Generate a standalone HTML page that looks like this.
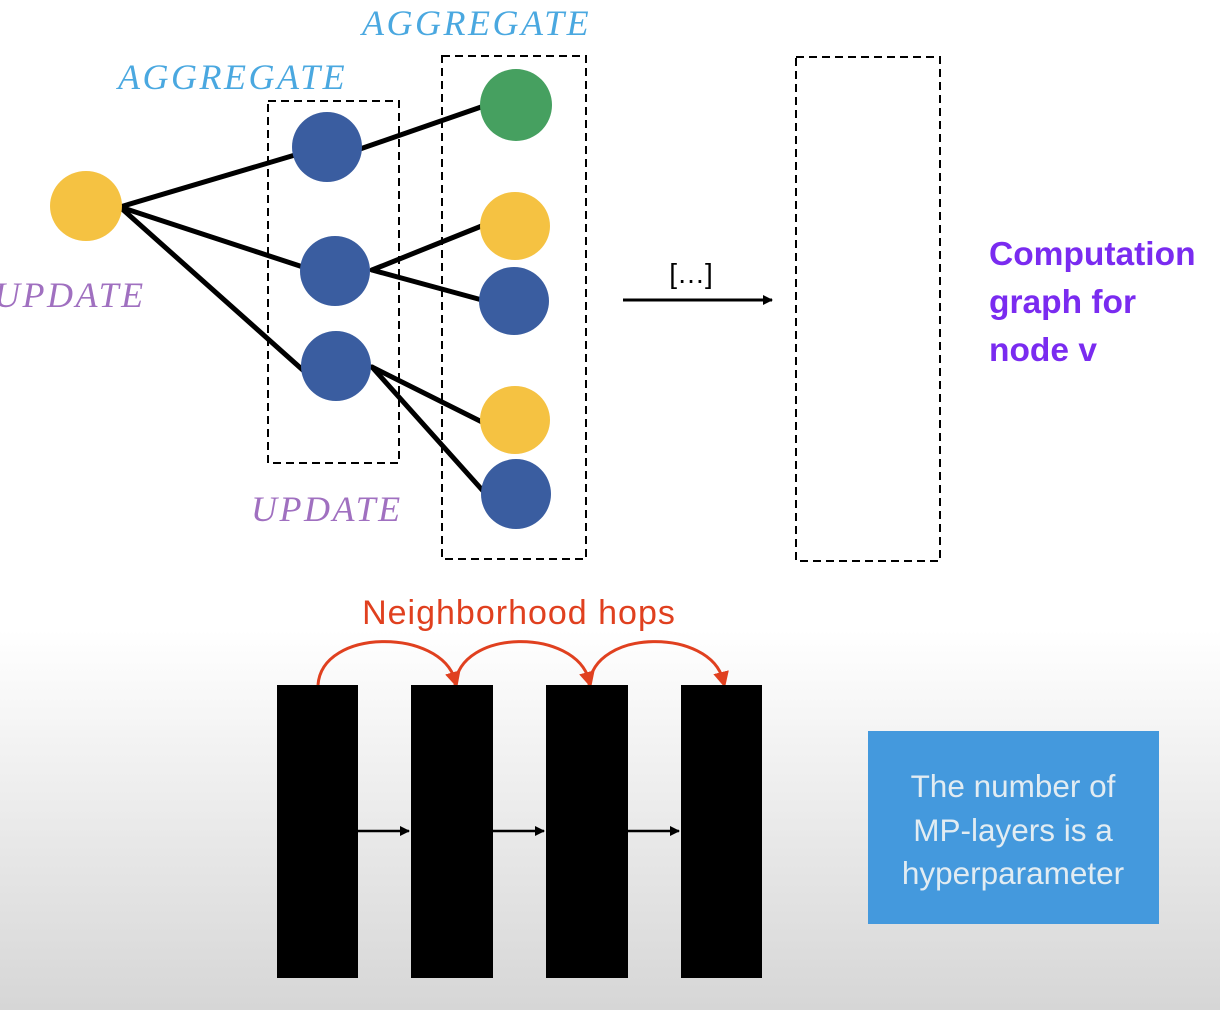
<!DOCTYPE html>
<html><head><meta charset="utf-8"><style>
html,body{margin:0;padding:0}
body{width:1220px;height:1010px;overflow:hidden;background:linear-gradient(to bottom,#fff 0,#fff 630px,#d6d6d6 1010px)}
svg{position:absolute;left:0;top:0}
</style></head><body>
<svg width="1220" height="1010" viewBox="0 0 1220 1010" xmlns="http://www.w3.org/2000/svg">
<defs>
<marker id="ak" markerWidth="10" markerHeight="10" refX="9" refY="5" orient="auto" markerUnits="userSpaceOnUse"><path d="M0,0 L10,5 L0,10 z" fill="#000"/></marker>
<marker id="ar" markerWidth="16" markerHeight="16" refX="8" refY="8" orient="auto" markerUnits="userSpaceOnUse"><path d="M0,0 L16,8 L0,16 z" fill="#e0401f"/></marker>
</defs>
<g fill="none" stroke="#000" stroke-width="2" stroke-dasharray="8,5">
<rect x="268" y="101" width="131" height="362"/>
<rect x="442" y="56" width="144" height="503"/>
<rect x="796" y="57" width="144" height="504"/>
</g>
<g stroke="#000" stroke-width="5" stroke-linecap="round">
<line x1="120" y1="207" x2="295" y2="155"/>
<line x1="120" y1="207" x2="303" y2="267"/>
<line x1="120" y1="207" x2="305" y2="372"/>
<line x1="360" y1="149" x2="484" y2="106"/>
<line x1="372" y1="270" x2="484" y2="225"/>
<line x1="372" y1="270" x2="482" y2="300"/>
<line x1="372" y1="367" x2="484" y2="423"/>
<line x1="372" y1="367" x2="484" y2="492"/>
</g>
<ellipse cx="86" cy="206" rx="36" ry="35" fill="#f5c242"/>
<ellipse cx="327" cy="147" rx="35" ry="35" fill="#3a5da0"/>
<ellipse cx="335" cy="271" rx="35" ry="35" fill="#3a5da0"/>
<ellipse cx="336" cy="366" rx="35" ry="35" fill="#3a5da0"/>
<ellipse cx="516" cy="105" rx="36" ry="36" fill="#46a060"/>
<ellipse cx="515" cy="226" rx="35" ry="34" fill="#f5c242"/>
<ellipse cx="514" cy="301" rx="35" ry="34" fill="#3a5da0"/>
<ellipse cx="515" cy="420" rx="35" ry="34" fill="#f5c242"/>
<ellipse cx="516" cy="494" rx="35" ry="35" fill="#3a5da0"/>
<line x1="623" y1="300" x2="772" y2="300" stroke="#000" stroke-width="3" marker-end="url(#ak)"/>
<text x="691" y="283" font-family="Liberation Sans, sans-serif" font-size="28" text-anchor="middle" fill="#000">[…]</text>
<g font-family="Liberation Serif, serif" font-style="italic" font-size="36" letter-spacing="2.5">
<text x="362" y="35" fill="#4aa8e0">AGGREGATE</text>
<text x="118" y="89" fill="#4aa8e0">AGGREGATE</text>
<text x="-6" y="307" fill="#a070c0">UPDATE</text>
<text x="251" y="521" fill="#a070c0">UPDATE</text>
</g>
<g font-family="Liberation Sans, sans-serif" font-weight="bold" font-size="33.5" fill="#7a2bf0">
<text x="989" y="265">Computation</text>
<text x="989" y="313">graph for</text>
<text x="989" y="361">node v</text>
</g>
<text x="519" y="624" font-family="Liberation Sans, sans-serif" font-size="34" letter-spacing="1" text-anchor="middle" fill="#e0401f">Neighborhood hops</text>
<g fill="none" stroke="#e0401f" stroke-width="3">
<path d="M318,685 C322,628 440,628 455,680" marker-end="url(#ar)"/>
<path d="M455,685 C460,628 575,628 589,680" marker-end="url(#ar)"/>
<path d="M589,685 C594,628 710,628 723,680" marker-end="url(#ar)"/>
</g>
<g fill="#000">
<rect x="277" y="685" width="81" height="293"/>
<rect x="411" y="685" width="82" height="293"/>
<rect x="546" y="685" width="82" height="293"/>
<rect x="681" y="685" width="81" height="293"/>
</g>
<g stroke="#000" stroke-width="2.5">
<line x1="358" y1="831" x2="409" y2="831" marker-end="url(#ak)"/>
<line x1="493" y1="831" x2="544" y2="831" marker-end="url(#ak)"/>
<line x1="628" y1="831" x2="679" y2="831" marker-end="url(#ak)"/>
</g>
<rect x="868" y="731" width="291" height="193" fill="#4499dd"/>
<g font-family="Liberation Sans, sans-serif" font-size="31.5" fill="#e2ecf2" text-anchor="middle">
<text x="1013" y="797">The number of</text>
<text x="1013" y="841">MP-layers is a</text>
<text x="1013" y="884">hyperparameter</text>
</g>
</svg>
</body></html>
